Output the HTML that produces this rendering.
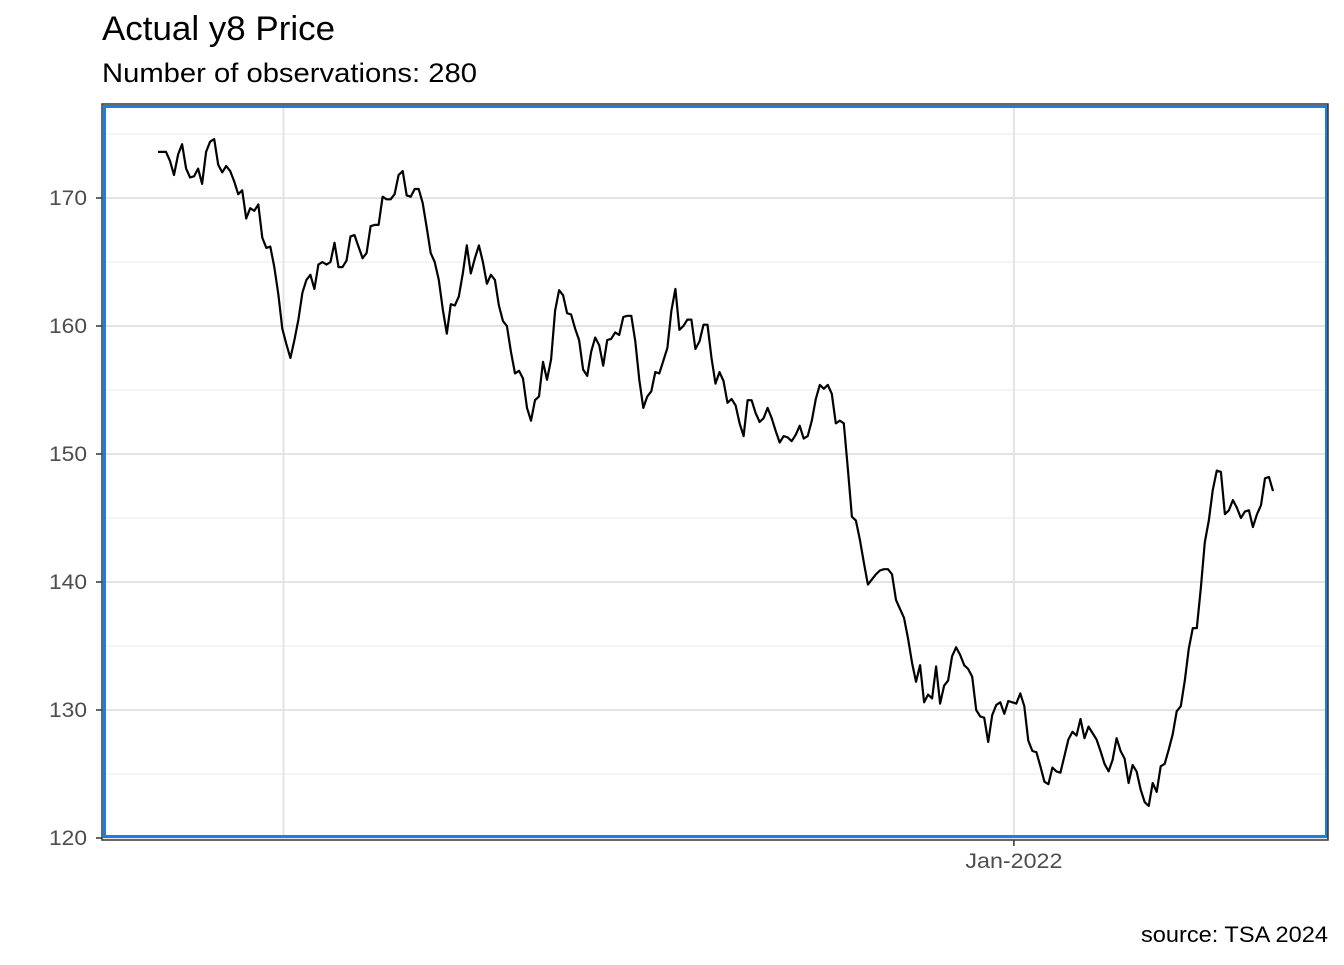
<!DOCTYPE html>
<html><head><meta charset="utf-8"><style>
body{margin:0;background:#fff;font-family:"Liberation Sans",Arial,sans-serif;}
</style></head><body>
<svg width="1344" height="960" viewBox="0 0 1344 960" xmlns="http://www.w3.org/2000/svg" font-family="Liberation Sans, Arial, sans-serif">
<rect width="1344" height="960" fill="#fff"/>
<text x="102" y="40" font-size="34" textLength="233" lengthAdjust="spacingAndGlyphs" fill="#000">Actual y8 Price</text>
<text x="102" y="82" font-size="27" textLength="375" lengthAdjust="spacingAndGlyphs" fill="#000">Number of observations: 280</text>
<text x="1141" y="942" font-size="22" textLength="187" lengthAdjust="spacingAndGlyphs" fill="#000">source: TSA 2024</text>
<g id="grid"></g>
<g id="axes"></g>
<path id="line" fill="none" stroke="#000" stroke-width="2.2" stroke-linejoin="round"/>
<rect x="104.5" y="106.5" width="1222" height="730" fill="none" stroke="#1a7fe0" stroke-width="3"/>
<rect x="102" y="104" width="1226" height="736" fill="none" stroke="#333" stroke-width="1.5"/>
</svg>
<script>
const values=[173.6,173.6,173.6,172.9,171.8,173.4,174.2,172.3,171.6,171.7,172.3,171.1,173.6,174.4,174.6,172.6,172.0,172.5,172.1,171.3,170.3,170.6,168.4,169.2,169.0,169.5,166.9,166.1,166.2,164.6,162.5,159.8,158.6,157.5,158.9,160.5,162.6,163.6,164.0,162.9,164.8,165.0,164.8,165.0,166.5,164.6,164.6,165.1,167.0,167.1,166.2,165.3,165.7,167.8,167.9,167.9,170.1,169.9,169.9,170.3,171.8,172.1,170.2,170.1,170.7,170.7,169.6,167.7,165.7,165.0,163.6,161.3,159.4,161.7,161.6,162.3,164.1,166.3,164.1,165.3,166.3,165.0,163.3,164.0,163.6,161.6,160.4,160.0,158.0,156.3,156.5,155.9,153.6,152.6,154.2,154.5,157.2,155.8,157.4,161.2,162.8,162.4,161.0,160.9,159.8,158.9,156.6,156.1,158.0,159.1,158.5,156.9,158.9,159.0,159.5,159.3,160.7,160.8,160.8,158.8,155.8,153.6,154.5,154.9,156.4,156.3,157.3,158.3,161.2,162.9,159.7,160.0,160.5,160.5,158.2,158.8,160.1,160.1,157.5,155.5,156.4,155.7,154.0,154.3,153.8,152.4,151.4,154.2,154.2,153.2,152.5,152.8,153.6,152.8,151.8,150.9,151.4,151.3,151.0,151.5,152.2,151.2,151.4,152.6,154.3,155.4,155.1,155.4,154.7,152.4,152.6,152.4,148.8,145.1,144.8,143.3,141.5,139.8,140.2,140.6,140.9,141.0,141.0,140.6,138.6,137.9,137.2,135.6,133.7,132.2,133.5,130.6,131.2,130.9,133.4,130.5,131.9,132.3,134.2,134.9,134.3,133.5,133.2,132.6,130.0,129.5,129.4,127.5,129.6,130.4,130.6,129.7,130.7,130.6,130.5,131.3,130.3,127.6,126.8,126.7,125.6,124.4,124.2,125.5,125.2,125.1,126.4,127.7,128.3,128.0,129.3,127.8,128.7,128.2,127.7,126.8,125.8,125.2,126.1,127.8,126.8,126.2,124.3,125.7,125.2,123.8,122.8,122.5,124.3,123.6,125.6,125.8,126.9,128.1,129.9,130.3,132.3,134.8,136.4,136.4,139.5,143.1,144.8,147.2,148.7,148.6,145.3,145.6,146.4,145.8,145.0,145.5,145.6,144.3,145.3,146.0,148.1,148.2,147.1];
const yTicks=[120,130,140,150,160,170];
const yMinor=[125,135,145,155,165,175];
const xGridIdx=[31.3,213.4];
const xLabels=["","Jan-2022"];
const NS="http://www.w3.org/2000/svg";
const xs=i=>158+i*(1273-158)/(values.length-1);
const ys=v=>838-(v-120)*12.8;
const grid=document.getElementById('grid'),axes=document.getElementById('axes');
function mk(tag,at,parent){const e=document.createElementNS(NS,tag);for(const k in at)e.setAttribute(k,at[k]);parent.appendChild(e);return e;}
yMinor.forEach(v=>{if(ys(v)<104)return;const l=mk('line',{x1:102,x2:1328,y1:ys(v),y2:ys(v),stroke:'#ebebeb','stroke-width':1},grid);

});
yTicks.forEach(v=>{const l=mk('line',{x1:102,x2:1328,y1:ys(v),y2:ys(v),stroke:'#e3e3e3','stroke-width':2},grid);


const t=mk('line',{x1:96,x2:102,y1:ys(v),y2:ys(v),stroke:'#333','stroke-width':1.5},axes);


const tx=mk('text',{x:87,y:ys(v)+7,'font-size':21,textLength:38,lengthAdjust:'spacingAndGlyphs',fill:'#4d4d4d','text-anchor':'end'},axes);tx.textContent=v;

});
xGridIdx.forEach((g,k)=>{const x=xs(g);const l=mk('line',{x1:x,x2:x,y1:104,y2:840,stroke:'#e3e3e3','stroke-width':2},grid);


if(xLabels[k]){const t=mk('line',{x1:x,x2:x,y1:840,y2:846,stroke:'#333','stroke-width':1.5},axes);


const tx=mk('text',{x:x,y:868,'font-size':21,textLength:97,lengthAdjust:'spacingAndGlyphs',fill:'#4d4d4d','text-anchor':'middle'},axes);tx.textContent=xLabels[k];

}});
document.getElementById('line').setAttribute('d',values.map((v,i)=>(i?'L':'M')+xs(i).toFixed(1)+' '+ys(v).toFixed(1)).join(''));
</script>
</body></html>
